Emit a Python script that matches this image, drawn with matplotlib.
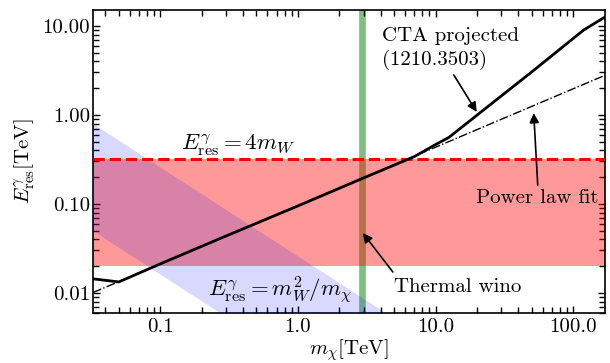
import matplotlib
matplotlib.use("Agg")
import matplotlib.pyplot as plt
from matplotlib.ticker import FixedLocator, FixedFormatter, LogLocator, NullFormatter

plt.rcParams['font.family'] = 'serif'
plt.rcParams['font.serif'] = ['cmr10']
plt.rcParams['mathtext.fontset'] = 'cm'
plt.rcParams['axes.unicode_minus'] = False

# W mass in TeV, thermal wino mass
MW = 0.0804
M_WINO = 2.9

# CTA projected resolution
cta_m = [0.0325, 0.05, 0.1, 0.3, 1.0, 3.0, 7.0, 10.0, 12.5, 24.1, 50.0, 119.0, 170.0]
cta_E = [0.0144, 0.0133, 0.0212, 0.0436, 0.095, 0.196, 0.34, 0.465, 0.56, 1.25, 3.05, 9.0, 12.6]

# power law fit endpoints
fit_m = [0.0325, 170.0]
fit_E = [0.0101, 2.79]

xlim = (0.0325, 170.0)
ylim = (0.0060, 15.3)

xticks = [0.1, 1.0, 10.0, 100.0]
xtick_labels = ["0.1", "1.0", "10.0", "100.0"]
yticks = [0.01, 0.1, 1.0, 10.0]
ytick_labels = ["0.01", "0.10", "1.00", "10.00"]

fig = plt.figure(figsize=(6.1, 3.63), dpi=100)
ax = fig.add_axes([0.1525, 0.1386, 0.8393, 0.8352])
ax.set_xscale('log')
ax.set_yscale('log')

# thermal wino
ax.axvline(M_WINO, color='green', alpha=0.5, lw=4.8, zorder=1)

# resolution bands
ax.axhspan(MW / 4, 4 * MW, color='red', alpha=0.4, lw=0, zorder=2)
band_m = list(xlim)
ax.fill_between(band_m, [MW**2 / (4 * m) for m in band_m], [4 * MW**2 / m for m in band_m],
                color='blue', alpha=0.15, lw=0, zorder=3)
ax.axhline(4 * MW, color='red', ls='--', lw=2.2, zorder=4)

# curves
ax.plot(cta_m, cta_E, color='black', lw=2.0, zorder=5)
ax.plot(fit_m, fit_E, color='black', ls='-.', lw=1.0, zorder=5)

fs = 15
ms = 16.5
ax.text(4.07, 6.84, "CTA projected", fontsize=fs, ha='left', va='baseline')
ax.text(4.07, 3.65, "(1210.3503)", fontsize=fs, ha='left', va='baseline')
ax.text(153, 0.1026, "Power law fit", fontsize=fs, ha='right', va='baseline')
ax.text(4.97, 0.01026, "Thermal wino", fontsize=fs, ha='left', va='baseline')
ax.text(0.1416, 0.404, r"$E^{\gamma}_{\rm res} = 4m_W$", fontsize=ms, ha='left', va='baseline')
ax.text(0.222, 0.0090, r"$E^{\gamma}_{\rm res} = m_W^2/m_\chi$", fontsize=ms, ha='left', va='baseline')

arrow = dict(arrowstyle='-|>', color='black', lw=1.2, mutation_scale=14, shrinkA=0, shrinkB=0)
ax.annotate("", xy=(19.9, 1.08), xytext=(13.56, 2.81), arrowprops=arrow, zorder=6)
ax.annotate("", xy=(51.6, 1.05), xytext=(55.2, 0.163), arrowprops=arrow, zorder=6)
ax.annotate("", xy=(2.96, 0.0472), xytext=(4.89, 0.0172), arrowprops=arrow, zorder=6)

ax.set_xlim(*xlim)
ax.set_ylim(*ylim)

ax.xaxis.set_major_locator(FixedLocator(xticks))
ax.xaxis.set_major_formatter(FixedFormatter(xtick_labels))
ax.yaxis.set_major_locator(FixedLocator(yticks))
ax.yaxis.set_major_formatter(FixedFormatter(ytick_labels))
ax.xaxis.set_minor_locator(LogLocator(base=10, subs=range(2, 10)))
ax.yaxis.set_minor_locator(LogLocator(base=10, subs=range(2, 10)))
ax.xaxis.set_minor_formatter(NullFormatter())
ax.yaxis.set_minor_formatter(NullFormatter())

ax.tick_params(which='both', direction='in', top=True, right=True, width=1.0, labelsize=fs)
ax.tick_params(which='major', length=5)
ax.tick_params(which='minor', length=4)
ax.tick_params(axis='y', pad=2)
ax.tick_params(axis='x', pad=4)
for s in ax.spines.values():
    s.set_linewidth(1.2)

ax.set_xlabel(r"$m_\chi$[TeV]", fontsize=fs, labelpad=1)
ax.set_ylabel(r"$E^{\gamma}_{\rm res}$[TeV]", fontsize=fs, labelpad=4)

fig.savefig("out.png", dpi=100)
